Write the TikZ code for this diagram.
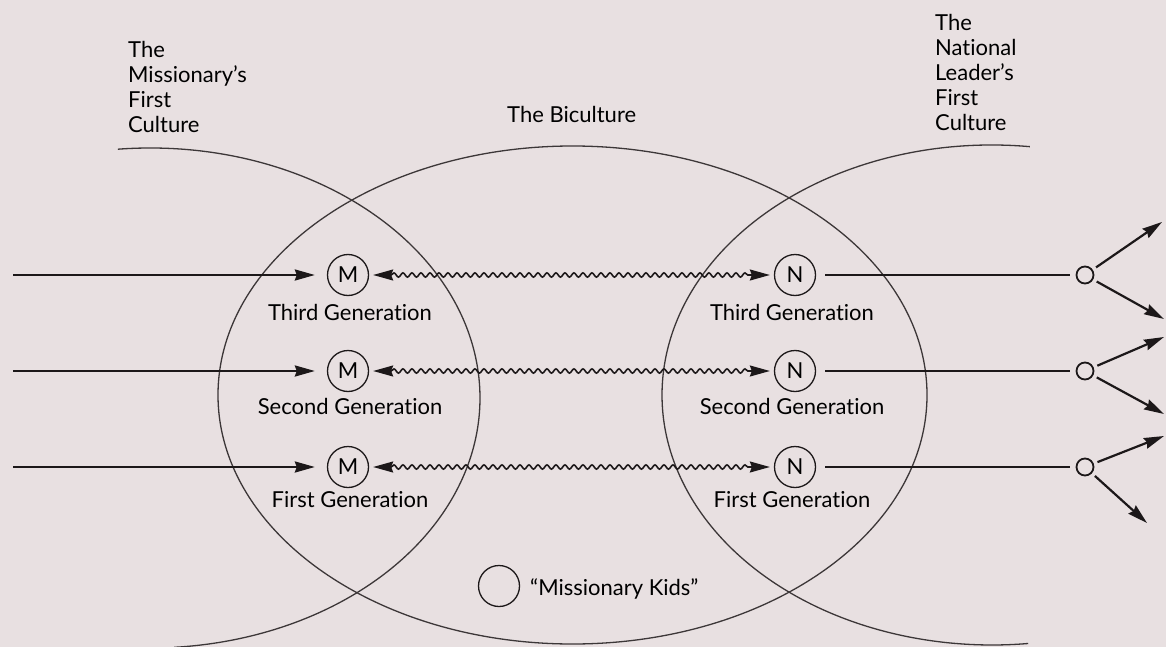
\documentclass[tikz,border=0pt]{standalone}
\usepackage{fontspec}
\setmainfont{Lato}[Ligatures={NoCommon,NoRequired,NoContextual}]
\usetikzlibrary{arrows.meta,decorations.pathmorphing}
\definecolor{bg}{RGB}{232,224,225}
\definecolor{ink}{RGB}{28,24,25}
\definecolor{thin}{RGB}{60,55,56}
\begin{document}
\begin{tikzpicture}[x=1pt,y=-1pt,
  culture/.style={draw=thin, line width=1.3pt},
  gen/.style={circle, draw=ink, line width=1.3pt, minimum size=41pt, inner sep=0pt, font=\fontsize{22}{24}\selectfont},
  small/.style={circle, draw=ink, line width=1.8pt, minimum size=17pt, inner sep=0pt},
  lab/.style={anchor=base, inner sep=0pt, font=\fontsize{22}{25}\selectfont},
  title/.style={anchor=north west, inner sep=0pt, align=left, font=\fontsize{22}{25}\selectfont},
  flow/.style={draw=ink, line width=2.4pt, -{Stealth[length=20pt,width=11pt,inset=2pt]}},
  plain/.style={draw=ink, line width=2.6pt},
  wavy/.style={draw=ink, line width=1.6pt, {Stealth[length=20pt,width=11pt,inset=2pt]}-{Stealth[length=20pt,width=11pt,inset=2pt]},
    decorate, decoration={snake, amplitude=2.1pt, segment length=9pt, pre length=18pt, post length=18pt}}
]
\fill[bg] (0,0) rectangle (1166,647);
\useasboundingbox (0,0) rectangle (1166,647);

% cultures
\draw[culture] (150,398) ++(-95.6:330 and 250) arc[start angle=-95.6, end angle=85.8, x radius=330, y radius=250];
\draw[culture] (992,395) ++(-83.4:330 and 250) arc[start angle=-83.4, end angle=-276.3, x radius=330, y radius=250];
\draw[culture] (572.5,395) ellipse[x radius=354.5, y radius=249];

% titles
\node[title] (tm) at (128,41) {The\\Missionary's\\First\\Culture};
\node[title] (tn) at (935,14) {The\\National\\Leader's\\First\\Culture};
\node[lab, anchor=base west] (tb) at (507,123) {The Biculture};

% generation nodes
\node[gen] (M3) at (348,275) {M};
\node[gen] (M2) at (348,371) {M};
\node[gen] (M1) at (348,467) {M};
\node[gen] (N3) at (795,275) {N};
\node[gen] (N2) at (795,371) {N};
\node[gen] (N1) at (795,467) {N};

\node[lab] (lm3) at (350,320) {Third Generation};
\node[lab] (lm2) at (350,414) {Second Generation};
\node[lab] (lm1) at (350,507) {First Generation};
\node[lab] (ln3) at (792,320) {Third Generation};
\node[lab] (ln2) at (792,414) {Second Generation};
\node[lab] (ln1) at (792,507) {First Generation};

% incoming arrows
\coordinate (L3) at (13,275);
\coordinate (L2) at (13,371);
\coordinate (L1) at (13,467);
\draw[flow, shorten >=12pt] (L3) -- (M3);
\draw[flow, shorten >=12pt] (L2) -- (M2);
\draw[flow, shorten >=12pt] (L1) -- (M1);

% wavy exchanges
\draw[wavy] ([xshift=4pt]M3.east) -- ([xshift=-4pt]N3.west);
\draw[wavy] ([xshift=4pt]M2.east) -- ([xshift=-4pt]N2.west);
\draw[wavy] ([xshift=4pt]M1.east) -- ([xshift=-4pt]N1.west);

% outgoing
\node[small] (o3) at (1085,275) {};
\node[small] (o2) at (1085,371) {};
\node[small] (o1) at (1085,467) {};
\draw[plain] ([xshift=9pt]N3.east) -- ([xshift=-6pt]o3.west);
\draw[plain] ([xshift=9pt]N2.east) -- ([xshift=-6pt]o2.west);
\draw[plain] ([xshift=9pt]N1.east) -- ([xshift=-6pt]o1.west);

\coordinate (t3u) at (1162,222);
\coordinate (t3d) at (1164,319);
\coordinate (t2u) at (1164,337);
\coordinate (t2d) at (1164,414);
\coordinate (t1u) at (1164,436);
\coordinate (t1d) at (1147,523);
\draw[flow, line width=2.2pt, shorten <=4pt] (o3) -- (t3u);
\draw[flow, line width=2.2pt, shorten <=4pt] (o3) -- (t3d);
\draw[flow, line width=2.2pt, shorten <=4pt] (o2) -- (t2u);
\draw[flow, line width=2.2pt, shorten <=4pt] (o2) -- (t2d);
\draw[flow, line width=2.2pt, shorten <=4pt] (o1) -- (t1u);
\draw[flow, line width=2.2pt, shorten <=4pt] (o1) -- (t1d);

% legend
\node[gen] (mk) at (499,586) {};
\node[lab, anchor=base west] (mkl) at (530,595) {“Missionary Kids”};
\end{tikzpicture}
\end{document}
